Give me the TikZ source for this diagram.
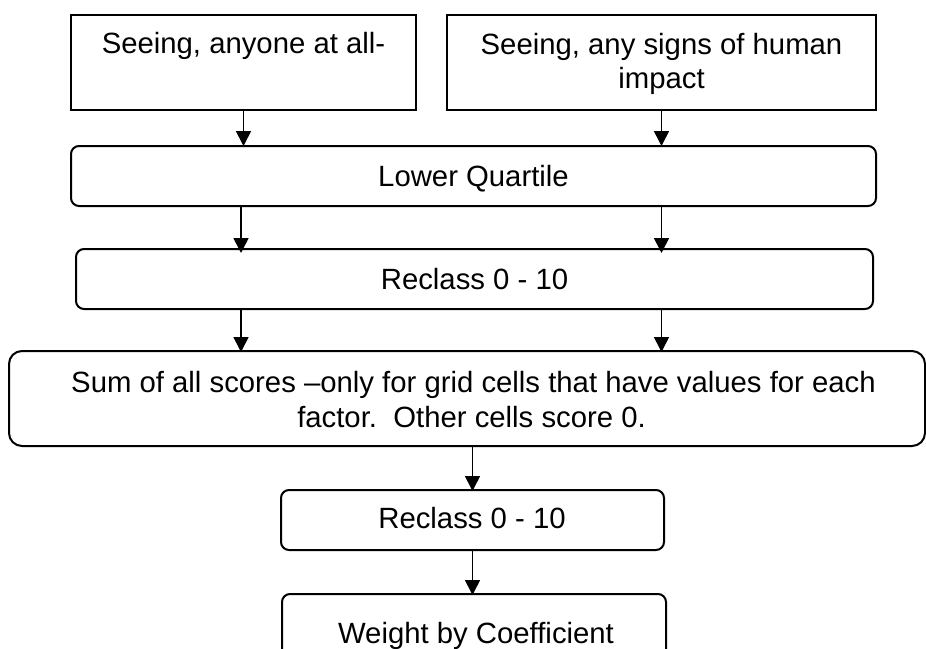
\documentclass[tikz,border=0pt]{standalone}
\usepackage{fontspec}
\setmainfont{Liberation Sans}
\usetikzlibrary{arrows.meta}
\begin{document}
\begin{tikzpicture}[x=1pt,y=-1pt,
  box/.style={draw=black,line width=2pt,inner sep=0pt,outer sep=0pt,fill=white},
  rbox/.style={box,rounded corners=8pt},
  txt/.style={font=\fontsize{29.3}{34}\selectfont,inner sep=0pt,anchor=base},
  arr/.style={line width=1.7pt,-{Triangle[width=15pt,length=15pt]}}]
\clip (0,0) rectangle (926,648);
\fill[white] (0,0) rectangle (926,648);
% boxes
\node[box,minimum width=345pt,minimum height=95pt] (b1) at (243.5,62.5) {};
\node[box,minimum width=429pt,minimum height=95pt] (b2) at (661.5,62.5) {};
\node[rbox,minimum width=805pt,minimum height=60pt] (lq) at (473.5,176) {};
\node[rbox,minimum width=797pt,minimum height=60pt] (rc) at (474.5,279) {};
\node[box,rounded corners=13pt,minimum width=916pt,minimum height=95pt] (sum) at (467,398.5) {};
\node[rbox,minimum width=383pt,minimum height=60pt] (rc2) at (472.5,520) {};
\node[rbox,minimum width=384pt,minimum height=76pt] (wt) at (474,632) {};
% texts
\node[txt] (t1) at (243.5,53) {Seeing, anyone at all-};
\node[txt] (t2a) at (661.5,54) {Seeing, any signs of human};
\node[txt] (t2b) at (661.5,88) {impact};
\node[txt] (t3) at (473.5,186) {Lower Quartile};
\node[txt] (t4) at (474.5,289) {Reclass 0 - 10};
\node[txt] (t5a) at (473.5,392) {Sum of all scores –only for grid cells that have values for each};
\node[txt] (t5b) at (471.5,427) {factor.\ \ Other cells score 0.};
\node[txt] (t6) at (472,528) {Reclass 0 - 10};
\node[txt] (t7) at (476,643) {Weight by Coefficient};
% connectors
\draw[arr] (b1.south) -- (b1.south |- lq.north);
\draw[arr] (b2.south) -- (b2.south |- lq.north);
\draw[arr] ([xshift=-2.5pt]lq.south -| b1.south) -- ([xshift=-2.5pt,yshift=-4pt]rc.north -| b1.south);
\draw[arr] (lq.south -| b2.south) -- ([yshift=-4pt]rc.north -| b2.south);
\draw[arr] ([xshift=-2.5pt]rc.south -| b1.south) -- ([xshift=-2.5pt,yshift=-1pt]sum.north -| b1.south);
\draw[arr] (rc.south -| b2.south) -- ([yshift=-1pt]sum.north -| b2.south);
\draw[arr] (sum.south -| rc2.north) -- ([yshift=-1pt]rc2.north);
\draw[arr] (rc2.south) -- ([yshift=-1pt]wt.north -| rc2.south);
\end{tikzpicture}
\end{document}
